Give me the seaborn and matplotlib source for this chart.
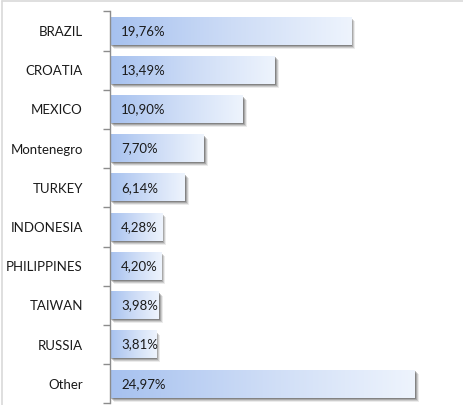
import matplotlib
matplotlib.use("Agg")
import matplotlib.pyplot as plt
import matplotlib.transforms as mtransforms
from matplotlib.patches import Rectangle
import numpy as np
import pandas as pd
import seaborn as sns

countries = ["BRAZIL", "CROATIA", "MEXICO", "Montenegro", "TURKEY",
             "INDONESIA", "PHILIPPINES", "TAIWAN", "RUSSIA", "Other"]
shares = [19.76, 13.49, 10.90, 7.70, 6.14, 4.28, 4.20, 3.98, 3.81, 24.97]
value_labels = ["19,76%", "13,49%", "10,90%", "7,70%", "6,14%",
                "4,28%", "4,20%", "3,98%", "3,81%", "24,97%"]

df = pd.DataFrame({"country": countries, "share": shares})

sns.set_style("white")
plt.rcParams["font.family"] = ["Lato", "DejaVu Sans"]

fig = plt.figure(figsize=(4.63, 4.05), dpi=100)
ax = fig.add_axes([110 / 463, 1.6 / 405, 345 / 463, (403.6 - 11.5) / 405])

sns.barplot(data=df, x="share", y="country", orient="h", width=0.7,
            color="#a9c4f0", ax=ax, zorder=3)

ax.set_xlim(0, 345 / 12.2)
ax.set_ylim(9.5, -0.5)

# gradient image
cmap = matplotlib.colors.LinearSegmentedColormap.from_list(
    "grad", ["#a6c1ef", "#cddcf6", "#eef4fd"])
grad = np.linspace(0, 1, 256).reshape(1, -1)

for patch, lbl in zip(ax.patches, value_labels):
    x0, y0 = patch.get_x(), patch.get_y()
    w, h = patch.get_width(), patch.get_height()
    # shadow layers
    for i, (dx, a) in enumerate([(1.0, 0.35), (2.0, 0.25), (3.0, 0.18), (4.0, 0.1)]):
        off = mtransforms.offset_copy(ax.transData, fig=fig, x=dx * 0.72, y=-dx * 0.72, units="points")
        ax.add_patch(Rectangle((x0, y0), w, h, transform=off, facecolor="#404040",
                               edgecolor="none", alpha=a, zorder=1))
    patch.set_facecolor("none")
    patch.set_edgecolor("none")
    im = ax.imshow(grad, cmap=cmap, aspect="auto", extent=(x0, x0 + w, y0 + h, y0),
                   zorder=2, interpolation="bilinear")
    ax.text(x0 + 0.9, y0 + h / 2, lbl, va="center", ha="left", fontsize=9.5,
            color="#1a1a1a", zorder=5)

ax.set_xlim(0, 345 / 12.2)
ax.set_ylim(9.5, -0.5)

for s in ["top", "right", "bottom"]:
    ax.spines[s].set_visible(False)
ax.spines["left"].set_color("#8c8c8c")
ax.spines["left"].set_linewidth(1.0)
ax.set_xticks([])
ax.set_yticks(np.arange(-0.5, 10.0, 1.0), minor=True)
ax.tick_params(axis="y", which="minor", left=True, length=5, color="#8c8c8c", width=1)
ax.tick_params(axis="y", which="major", left=False, labelsize=9.5, pad=16, labelcolor="#1a1a1a")
ax.set_xlabel("")
ax.set_ylabel("")

# figure border (left and top)
fig.add_artist(plt.Line2D([1.5 / 463, 1.5 / 463], [0, 1 - 1 / 405], color="#d9d9d9", lw=1.2,
                          transform=fig.transFigure))
fig.add_artist(plt.Line2D([1.5 / 463, 1], [1 - 1 / 405, 1 - 1 / 405], color="#d9d9d9", lw=1.2,
                          transform=fig.transFigure))

fig.savefig("out.png", dpi=100)
